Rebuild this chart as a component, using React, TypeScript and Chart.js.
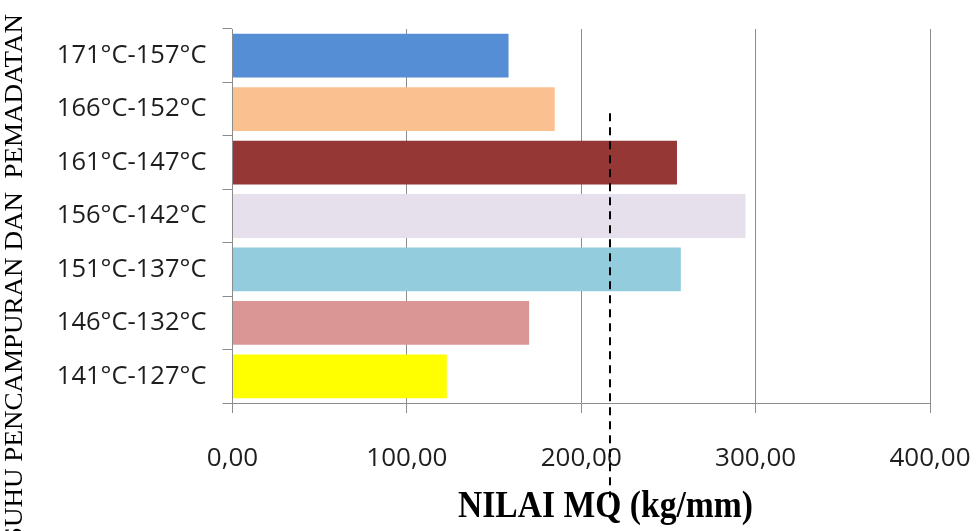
import React, { useEffect, useRef } from "react";
import { Chart, registerables } from "chart.js";

Chart.register(...registerables);

// Mixing / compaction temperature ranges (top to bottom)
const categories = [
  "171°C-157°C",
  "166°C-152°C",
  "161°C-147°C",
  "156°C-142°C",
  "151°C-137°C",
  "146°C-132°C",
  "141°C-127°C",
];

// Marshall Quotient per temperature range (kg/mm)
const mqValues = [158.3, 184.8, 254.9, 294.2, 257.1, 170.1, 122.9];

const barColors = [
  "#558ED5",
  "#FAC090",
  "#953735",
  "#E6E0EC",
  "#93CDDD",
  "#D99694",
  "#FFFF00",
];

const xTickValues = [0, 100, 200, 300, 400];

// Dashed reference value and its vertical extent in category units
const referenceMQ = 216.5;
const referenceFrom = 1.075;
const referenceTo = 8.27;

const xTitle = "NILAI MQ (kg/mm)";
const yTitle = "SUHU PENCAMPURAN DAN  PEMADATAN";

const GRID = "#8c8c8c";
const TICK_FONT = "'Open Sans', 'Noto Sans', sans-serif";
const SERIF = "'Liberation Serif', 'DejaVu Serif', serif";

const overlayPlugin = {
  id: "overlay",
  afterDraw(chart: any) {
    const { ctx, scales } = chart;
    const x = scales.x;
    const y = scales.y;

    // dashed reference line
    const px = Math.round(x.getPixelForValue(referenceMQ));
    ctx.save();
    ctx.strokeStyle = "#000";
    ctx.lineWidth = 2;
    ctx.setLineDash([8, 6]);
    ctx.beginPath();
    ctx.moveTo(px, y.getPixelForValue(referenceFrom));
    ctx.lineTo(px, y.getPixelForValue(referenceTo));
    ctx.stroke();
    ctx.restore();

    // x axis title
    ctx.save();
    ctx.fillStyle = "#000";
    ctx.font = `bold 34px ${SERIF}`;
    const wx = ctx.measureText(xTitle).width;
    ctx.translate(605.5, 517);
    ctx.scale(295 / wx, 1.12);
    ctx.textAlign = "center";
    ctx.textBaseline = "alphabetic";
    ctx.fillText(xTitle, 0, 0);
    ctx.restore();

    // y axis title
    ctx.save();
    ctx.fillStyle = "#000";
    ctx.font = `25px ${SERIF}`;
    const wy = ctx.measureText(yTitle).width;
    ctx.translate(22, 14);
    ctx.rotate(-Math.PI / 2);
    ctx.scale(528 / wy, 1);
    ctx.textAlign = "right";
    ctx.textBaseline = "alphabetic";
    ctx.fillText(yTitle, 0, 0);
    ctx.restore();
  },
};

export default function App() {
  const canvasRef = useRef<HTMLCanvasElement | null>(null);

  useEffect(() => {
    if (!canvasRef.current) return;
    const chart = new Chart(canvasRef.current, {
      type: "bar",
      data: {
        labels: categories,
        datasets: [
          {
            data: mqValues,
            backgroundColor: barColors,
            borderWidth: 0,
            barPercentage: 0.82,
            categoryPercentage: 1,
          },
        ],
      },
      options: {
        indexAxis: "y",
        responsive: false,
        animation: false,
        layout: { padding: { top: 29, right: 47, left: 0, bottom: 0 } },
        plugins: {
          legend: { display: false },
          tooltip: { enabled: false },
          title: { display: false },
        },
        scales: {
          x: {
            min: xTickValues[0],
            max: xTickValues[xTickValues.length - 1],
            afterBuildTicks(scale: any) {
              scale.ticks = xTickValues.map((v) => ({ value: v }));
            },
            afterFit(scale: any) {
              scale.height = 128;
              scale.paddingLeft = 0;
              scale.paddingRight = 0;
            },
            grid: {
              color: GRID,
              lineWidth: 1,
              drawOnChartArea: true,
              drawTicks: true,
              tickLength: 10,
            },
            border: { color: GRID, width: 1 },
            ticks: {
              padding: 30,
              color: "#1e1e1e",
              font: { family: TICK_FONT, size: 26 },
              callback: (v: any) => Number(v).toFixed(2).replace(".", ","),
            },
          },
          y: {
            afterFit(scale: any) {
              scale.width = 232.5;
              scale.paddingTop = 0;
              scale.paddingBottom = 0;
            },
            grid: {
              color: GRID,
              lineWidth: 1,
              drawOnChartArea: false,
              drawTicks: true,
              tickLength: 10,
              offset: true,
            },
            border: { color: GRID, width: 1 },
            ticks: {
              padding: 16,
              color: "#1e1e1e",
              font: { family: TICK_FONT, size: 25.5 },
            },
          },
        },
      },
      plugins: [overlayPlugin],
    });
    return () => chart.destroy();
  }, []);

  return (
    <div style={{ position: "fixed", left: 0, top: 0, width: 977, height: 531, background: "#fff" }}>
      <canvas ref={canvasRef} width={977} height={531} style={{ display: "block" }} />
    </div>
  );
}
